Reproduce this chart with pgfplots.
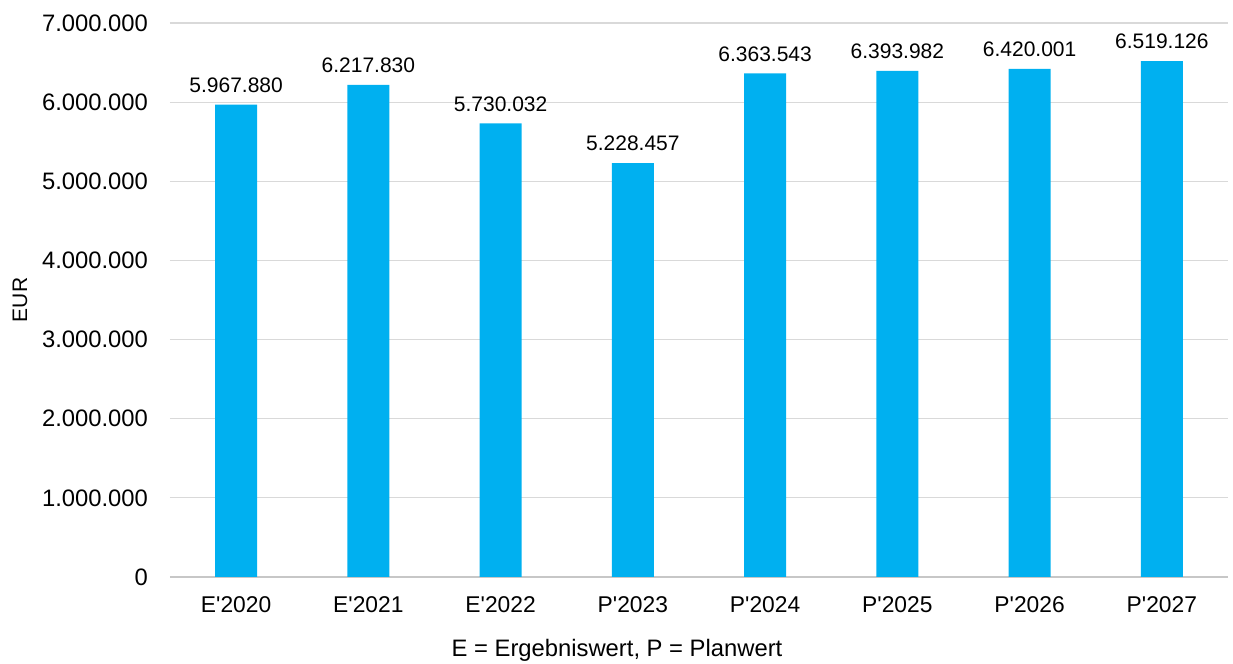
\documentclass[border=0pt]{standalone}
\usepackage{pgfplots}
\pgfplotsset{compat=1.18}
\usepackage{fontspec}
\setmainfont{Liberation Sans}
\definecolor{barblue}{HTML}{00B0F0}
\definecolor{gridgray}{HTML}{D9D9D9}
\definecolor{txt}{HTML}{000000}
\begin{document}
\begin{tikzpicture}
\begin{axis}[
  scale only axis,
  width=529pt, height=277pt,
  xmin=-0.5, xmax=7.5,
  ymin=0, ymax=7000000,
  ytick={0,1000000,2000000,3000000,4000000,5000000,6000000,7000000},
  scaled y ticks=false,
  xtick={0,1,2,3,4,5,6,7},
  xticklabels={E\textquotesingle 2020,E\textquotesingle 2021,E\textquotesingle 2022,P\textquotesingle 2023,P\textquotesingle 2024,P\textquotesingle 2025,P\textquotesingle 2026,P\textquotesingle 2027},
  /pgf/number format/.cd, 1000 sep={.}, fixed, precision=0, assume math mode=true,
  /pgfplots/.cd,
  ymajorgrids,
  grid style={gridgray, line width=0.6pt},
  axis x line*=bottom,
  axis y line*=left,
  x axis line style={draw=gridgray!80!gray, line width=0.6pt},
  y axis line style={draw=none},
  major tick length=0pt,
  tick style={draw=none},
  yticklabel style={font=\fontsize{11.9}{14}\selectfont, text=txt, xshift=-7.5pt},
  xticklabel style={font=\fontsize{11.4}{14}\selectfont, text=txt, yshift=-6.5pt},
  ylabel={EUR},
  ylabel style={font=\fontsize{10.5}{12}\selectfont, at={(axis description cs:-0.1418,0.5)}, anchor=center},
  xlabel={E = Ergebniswert, P = Planwert},
  xlabel style={font=\fontsize{11.9}{14}\selectfont, at={(axis description cs:0.4225,-0.1318)}, anchor=center},
  nodes near coords,
  nodes near coords style={font=\fontsize{10.5}{12}\selectfont, text=txt, yshift=2.5pt},
  ybar, bar width=21pt,
  clip=false,
]
\addplot[fill=barblue, draw=none] coordinates {
(0,5967880) (1,6217830) (2,5730032) (3,5228457) (4,6363543) (5,6393982) (6,6420001) (7,6519126)};
\end{axis}
\pgfresetboundingbox
\path (current axis.south west) ++(-85pt,-43.5pt) rectangle ([shift={(2.5pt,11.5pt)}]current axis.north east);
\end{tikzpicture}
\end{document}
